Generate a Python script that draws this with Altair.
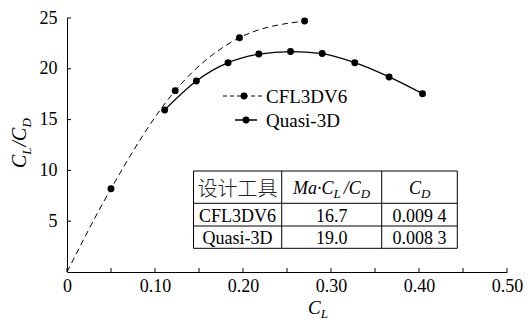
import altair as alt
import pandas as pd

# ---------------- data ----------------
cfl_x = [0.0, 0.050, 0.123, 0.196, 0.270]
cfl_y = [0.0, 8.2, 17.85, 23.06, 24.7]
cfl_marker = [False, True, True, True, True]

q_x = [0.111, 0.147, 0.183, 0.218, 0.254, 0.290, 0.327, 0.366, 0.404]
q_y = [15.95, 18.8, 20.6, 21.45, 21.7, 21.5, 20.6, 19.2, 17.55]

series_names = ["CFL3DV6", "Quasi-3D"]
table_header_tool = "设计工具"
table_tools = ["CFL3DV6", "Quasi-3D"]
table_ratio = ["16.7", "19.0"]
table_cd = ["0.009 4", "0.008 3"]

x_ticks_labels = [0, 0.1, 0.2, 0.3, 0.4, 0.5]
x_ticks_minor = [0.05 * i for i in range(11)]
y_ticks = [5, 10, 15, 20, 25]

# ---------------- layout ----------------
W, H = 440, 254
L, T = 67, 18
XMAX, YMAX = 0.5, 25.0
FONT = "Liberation Serif"


def gx2d(gx):
    return (gx - L) / W * XMAX


def gy2d(gy):
    return (T + H - gy) / H * YMAX


ITALIC_W = {'M': 0.833, 'a': 0.5, '·': 0.25, 'C': 0.667, 'L': 0.556,
            '/': 0.278, 'D': 0.722}


def rich(pieces, gx0, gy0, vertical=False, shift=4):
    # pieces: (text, font size, is subscript, gap before in px)
    rows = []
    pos = 0.0
    for text, size, sub, gap in pieces:
        pos += gap
        w = sum(ITALIC_W[c] for c in text) * size
        s = shift if sub else 0
        if vertical:
            gx, gy = gx0 + s, gy0 - pos
        else:
            gx, gy = gx0 + pos, gy0 + s
        rows.append(dict(x=gx2d(gx), y=gy2d(gy), t=text, s=size))
        pos += w
    return pd.DataFrame(rows)


xs = alt.Scale(domain=[0, XMAX], nice=False, zero=False)
ys = alt.Scale(domain=[0, YMAX], nice=False, zero=False)

cfl = pd.DataFrame({"x": cfl_x, "y": cfl_y, "m": cfl_marker})
qd = pd.DataFrame({"x": q_x, "y": q_y})

base_x = alt.X("x:Q", scale=xs,
               axis=alt.Axis(values=x_ticks_labels, ticks=False, tickSize=0, grid=False,
                             labelExpr="datum.value == 0 ? '0' : format(datum.value, '.2f')",
                             labelFont=FONT, labelFontSize=18, labelColor="black",
                             labelPadding=5, domainColor="black", domainWidth=1,
                             title=None, labelFlush=False))
base_y = alt.Y("y:Q", scale=ys,
               axis=alt.Axis(values=y_ticks, ticks=False, tickSize=0, grid=False,
                             labelFont=FONT, labelFontSize=18, labelColor="black",
                             labelPadding=10, domainColor="black", domainWidth=1,
                             title=None))

cfl_line = alt.Chart(cfl).mark_line(color="black", strokeWidth=1, strokeDash=[6, 4],
                                    interpolate="monotone").encode(x=base_x, y=base_y)
cfl_pts = alt.Chart(cfl[cfl.m]).mark_circle(color="black", size=48, opacity=1).encode(
    x=alt.X("x:Q", scale=xs), y=alt.Y("y:Q", scale=ys))
q_line = alt.Chart(qd).mark_line(color="black", strokeWidth=1.3,
                                 interpolate="monotone").encode(
    x=alt.X("x:Q", scale=xs), y=alt.Y("y:Q", scale=ys))
q_pts = alt.Chart(qd).mark_circle(color="black", size=48, opacity=1).encode(
    x=alt.X("x:Q", scale=xs), y=alt.Y("y:Q", scale=ys))

# inward ticks
xt = alt.Chart(pd.DataFrame({"v": x_ticks_minor})).mark_rule(color="black", strokeWidth=1).encode(
    x=alt.X("v:Q", scale=xs), y=alt.value(H), y2=alt.value(H - 4))
yt = alt.Chart(pd.DataFrame({"v": y_ticks})).mark_rule(color="black", strokeWidth=1).encode(
    y=alt.Y("v:Q", scale=ys), x=alt.value(0), x2=alt.value(4))

# legend
leg_lines = pd.DataFrame({
    "x": [gx2d(223), gx2d(235)], "x2": [gx2d(264), gx2d(257)],
    "y": [gy2d(96), gy2d(120)], "k": series_names})
leg_dash = alt.Chart(leg_lines.iloc[[0]]).mark_rule(color="black", strokeWidth=1, strokeDash=[4, 3]).encode(
    x=alt.X("x:Q", scale=xs), x2="x2:Q", y=alt.Y("y:Q", scale=ys))
leg_solid = alt.Chart(leg_lines.iloc[[1]]).mark_rule(color="black", strokeWidth=1.5).encode(
    x=alt.X("x:Q", scale=xs), x2="x2:Q", y=alt.Y("y:Q", scale=ys))
leg_pts = alt.Chart(pd.DataFrame({"x": [gx2d(244), gx2d(246)], "y": [gy2d(96), gy2d(120)]})).mark_circle(
    color="black", size=48, opacity=1).encode(x=alt.X("x:Q", scale=xs), y=alt.Y("y:Q", scale=ys))
leg_txt = alt.Chart(pd.DataFrame({"x": [gx2d(266)] * 2, "y": [gy2d(103), gy2d(127)], "t": series_names})).mark_text(
    font=FONT, fontSize=19, align="left", baseline="alphabetic", color="black").encode(
    x=alt.X("x:Q", scale=xs), y=alt.Y("y:Q", scale=ys), text="t:N")

# table
col_b = [gx2d(193.5), gx2d(281.7), gx2d(381.7), gx2d(457.3)]
row_b = [gy2d(171), gy2d(203.3), gy2d(226), gy2d(248.3)]
hl = pd.DataFrame({"x": [col_b[0]] * 4, "x2": [col_b[-1]] * 4, "y": row_b})
vl = pd.DataFrame({"x": col_b, "y": [row_b[0]] * 4, "y2": [row_b[-1]] * 4})
t_h = alt.Chart(hl).mark_rule(color="black", strokeWidth=1).encode(
    x=alt.X("x:Q", scale=xs), x2="x2:Q", y=alt.Y("y:Q", scale=ys))
t_v = alt.Chart(vl).mark_rule(color="black", strokeWidth=1).encode(
    x=alt.X("x:Q", scale=xs), y=alt.Y("y:Q", scale=ys), y2="y2:Q")

col_c = [(col_b[i] + col_b[i + 1]) / 2 for i in range(3)]
body = pd.DataFrame({
    "x": [col_c[0], col_c[1], col_c[2]] * 2,
    "y": [gy2d(222)] * 3 + [gy2d(244)] * 3,
    "t": [table_tools[0], table_ratio[0], table_cd[0], table_tools[1], table_ratio[1], table_cd[1]]})
t_body = alt.Chart(body).mark_text(font=FONT, fontSize=18, align="center", baseline="alphabetic",
                                   color="black").encode(
    x=alt.X("x:Q", scale=xs), y=alt.Y("y:Q", scale=ys), text="t:N")
t_cn = alt.Chart(pd.DataFrame({"x": [col_c[0]], "y": [gy2d(196)], "t": [table_header_tool]})).mark_text(
    font="Noto Sans CJK SC", fontSize=20, fontWeight=300, align="center", baseline="alphabetic",
    color="#222222").encode(x=alt.X("x:Q", scale=xs), y=alt.Y("y:Q", scale=ys), text="t:N")

hdr = pd.concat([
    rich([("Ma·C", 18, False, 0), ("L", 13, True, 0), ("/C", 18, False, 3), ("D", 13, True, 0)], 293, 194),
    rich([("C", 18, False, 0), ("D", 13, True, 0)], 409, 194),
    rich([("C", 19, False, 0), ("L", 13, True, 0)], 308, 314),
])
t_hdr = alt.Chart(hdr).mark_text(font=FONT, fontStyle="italic", align="left", baseline="alphabetic",
                                 color="black").encode(
    x=alt.X("x:Q", scale=xs), y=alt.Y("y:Q", scale=ys), text="t:N",
    size=alt.Size("s:Q", scale=None, legend=None))

ytitle = rich([("C", 20, False, 0), ("L", 13, True, 0), ("/C", 20, False, 1), ("D", 13, True, 0)], 26, 168,
              vertical=True, shift=5)
t_ytitle = alt.Chart(ytitle).mark_text(font=FONT, fontStyle="italic", align="left", baseline="alphabetic",
                                       angle=270, color="black").encode(
    x=alt.X("x:Q", scale=xs), y=alt.Y("y:Q", scale=ys), text="t:N",
    size=alt.Size("s:Q", scale=None, legend=None))

chart = alt.layer(
    cfl_line, q_line, cfl_pts, q_pts, xt, yt,
    leg_dash, leg_solid, leg_pts, leg_txt,
    t_h, t_v, t_body, t_cn, t_hdr, t_ytitle
).properties(
    width=W, height=H, autosize="none",
    padding={"left": L, "top": T, "right": 528 - L - W, "bottom": 328 - T - H},
    background="white"
).configure_view(stroke=None)

chart.save("out.html", embed_options={"renderer": "svg", "actions": False})
